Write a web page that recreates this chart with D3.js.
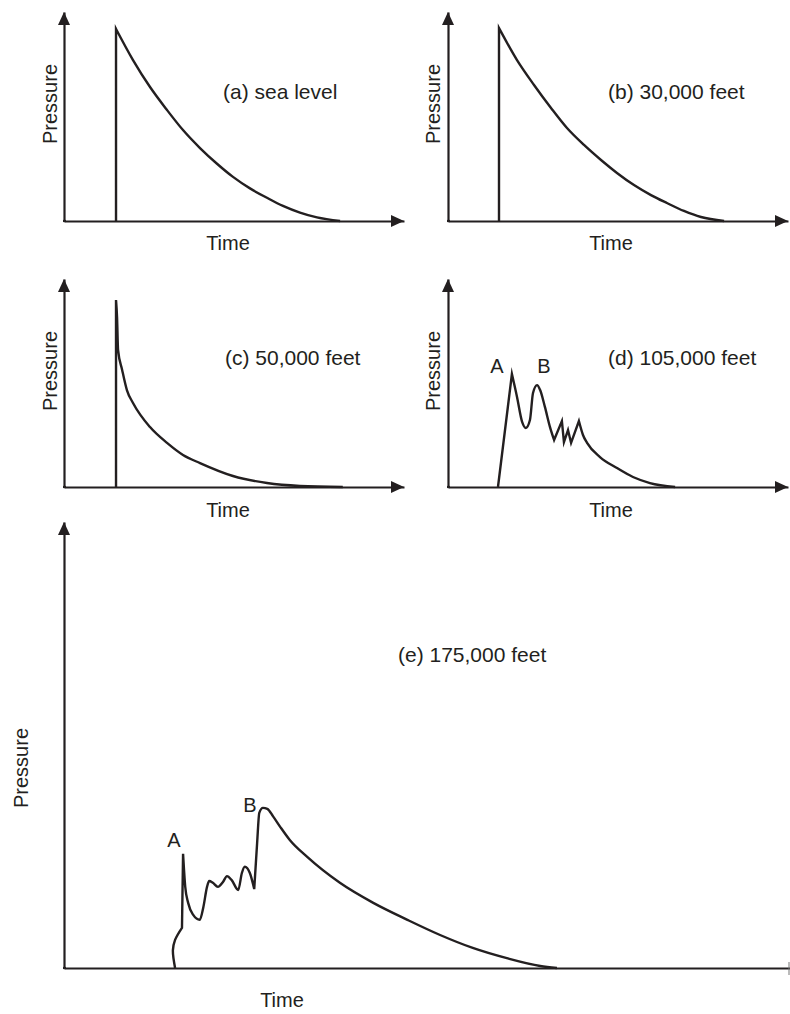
<!DOCTYPE html>
<html>
<head>
<meta charset="utf-8">
<script src="https://cdn.jsdelivr.net/npm/d3@7"></script>
<style>
  html, body { margin: 0; padding: 0; background: #fff; }
  svg { display: block; }
  text { font-family: "Liberation Sans", Arial, Helvetica, sans-serif; fill: #231f20; }
</style>
</head>
<body>
<svg id="chart" width="790" height="1014"></svg>
<script>
// ---- Data (time, pressure) in relative units 0-100 ----
const seaLevel = [[15.3,0],[15.3,91.9],[20.3,77.0],[25.3,64.1],[30.3,53.1],[35.0,43.5],[40.0,34.9],[45.0,27.4],[49.7,21.1],[54.7,15.6],[59.7,11.1],[64.4,7.2],[69.4,4.0],[74.4,1.7],[81.2,0]];
const ft30000 = [[15.0,0],[15.0,92.3],[20.3,77.0],[25.3,65.1],[30.3,54.1],[35.0,44.5],[40.0,36.4],[45.0,29.2],[49.7,23.0],[54.7,17.2],[59.7,12.4],[64.4,8.6],[69.4,4.8],[74.4,1.9],[81.2,0]];
const ft50000 = [[15.3,0],[15.3,89.9],[15.6,81.7],[15.9,65.9],[17.1,56.3],[18.5,46.6],[20.3,40.4],[25.3,28.8],[30.3,21.2],[35.0,15.4],[40.0,11.5],[49.7,5.3],[59.7,1.9],[69.4,0.5],[82.0,0]];
const ft105000 = [[14.7,0],[18.8,54.3],[20.3,43.3],[21.8,31.3],[22.9,28.4],[24.1,32.2],[25.0,45.2],[26.2,49.0],[27.1,46.6],[28.5,38.5],[30.0,28.8],[31.2,22.6],[33.5,31.7],[34.1,21.6],[35.3,27.4],[36.2,21.2],[38.5,31.7],[39.7,25.0],[40.9,21.2],[44.7,14.4],[49.7,9.1],[54.4,4.8],[59.4,1.9],[66.8,0]];
const ft175000 = [[15.3,0],[15.0,4.0],[15.3,6.3],[16.25,9.0],[16.4,25.6],[16.7,18.2],[17.1,14.6],[17.8,11.9],[18.7,10.8],[19.2,13.7],[19.7,18.2],[20.0,19.5],[20.5,19.1],[21.2,18.2],[21.9,19.3],[22.45,20.6],[23.1,19.7],[24.0,17.5],[24.5,21.3],[24.9,22.7],[25.6,21.3],[26.2,17.7],[26.6,28.0],[26.9,34.8],[27.4,35.9],[28.0,35.7],[28.8,34.0],[29.8,31.6],[31.1,28.7],[33.5,24.9],[38.0,19.1],[42.6,14.6],[47.3,10.8],[51.8,7.4],[56.3,4.5],[61.0,2.2],[65.6,0.45],[67.9,0]];

// indices where the trace has a sharp corner
const sharpA = [1];
const sharpB = [1];
const sharpC = [1];
const sharpD = [1, 11, 12, 13, 14, 15, 16];
const sharpE = [3, 4, 21];

const panelLabels = ["(a) sea level", "(b) 30,000 feet", "(c) 50,000 feet", "(d) 105,000 feet", "(e) 175,000 feet"];
const yTitle = "Pressure";
const xTitle = "Time";

// ---- Layout ----
const ink = "#231f20";
const svg = d3.select("#chart");

const panels = [
  { data: seaLevel, sharp: sharpA, ox: 64,  oy: 221, xEnd: 404, yTop: 12,  label: panelLabels[0], lx: 223, ly: 99,
    py: [57, 104], tx: [228, 250], arrowX: true, peaks: [] },
  { data: ft30000,  sharp: sharpB, ox: 448, oy: 221, xEnd: 788, yTop: 12,  label: panelLabels[1], lx: 608, ly: 99,
    py: [440, 104], tx: [611, 250], arrowX: true, peaks: [] },
  { data: ft50000,  sharp: sharpC, ox: 64,  oy: 487, xEnd: 404, yTop: 279, label: panelLabels[2], lx: 225, ly: 365,
    py: [57, 371], tx: [228, 517], arrowX: true, peaks: [] },
  { data: ft105000, sharp: sharpD, ox: 448, oy: 487, xEnd: 788, yTop: 279, label: panelLabels[3], lx: 608, ly: 365,
    py: [440, 371], tx: [611, 517], arrowX: true, peaks: [["A", 497, 373], ["B", 544, 373]] },
  { data: ft175000, sharp: sharpE, ox: 64,  oy: 968, xEnd: 790, yTop: 522, label: panelLabels[4], lx: 398, ly: 662,
    py: [28, 768], tx: [282, 1007], arrowX: false, peaks: [["A", 174, 847], ["B", 250, 812]] }
];

panels.forEach(p => {
  const g = svg.append("g");
  const x = d3.scaleLinear().domain([0, 100]).range([p.ox, p.xEnd]);
  const y = d3.scaleLinear().domain([0, 100]).range([p.oy, p.yTop]);

  // axes (domain lines only)
  const xa = g.append("g").attr("transform", `translate(0,${p.oy})`)
    .call(d3.axisBottom(x).tickValues([]).tickSizeOuter(0));
  const ya = g.append("g").attr("transform", `translate(${p.ox},0)`)
    .call(d3.axisLeft(y).tickValues([]).tickSizeOuter(0));
  [xa, ya].forEach(a => a.select(".domain").attr("stroke", ink).attr("stroke-width", 2.2));
  g.append("line").attr("x1", p.ox - 1).attr("x2", p.ox + 2).attr("y1", p.oy).attr("y2", p.oy)
    .attr("stroke", ink).attr("stroke-width", 2.2);

  // arrowheads
  const yt = y.range()[1];
  g.append("path").attr("d", `M${p.ox},${yt} L${p.ox - 6},${yt + 13} L${p.ox + 6},${yt + 13} Z`).attr("fill", ink);
  const xt = x.range()[1];
  if (p.arrowX) {
    g.append("path").attr("d", `M${xt},${p.oy} L${xt - 13},${p.oy - 6} L${xt - 13},${p.oy + 6} Z`).attr("fill", ink);
  } else {
    g.append("line").attr("x1", xt - 1).attr("x2", xt - 1).attr("y1", p.oy - 6).attr("y2", p.oy + 7)
      .attr("stroke", "#777").attr("stroke-width", 1);
  }

  // trace, split at sharp corners; smooth monotone pieces where time increases
  const mono = d3.line().x(d => x(d[0])).y(d => y(d[1])).curve(d3.curveMonotoneX);
  const cr = d3.line().x(d => x(d[0])).y(d => y(d[1])).curve(d3.curveCatmullRom.alpha(0.5));
  const br = [0, ...p.sharp, p.data.length - 1];
  let dStr = "";
  for (let i = 0; i < br.length - 1; i++) {
    const seg = p.data.slice(br[i], br[i + 1] + 1);
    const inc = seg.every((d, j) => j === 0 || d[0] > seg[j - 1][0]);
    const s = (inc ? mono : cr)(seg);
    dStr += i === 0 ? s : s.replace(/^M[^A-Za-z]*/, "");
  }
  g.append("path").attr("d", dStr).attr("fill", "none").attr("stroke", ink)
    .attr("stroke-width", 2.4).attr("stroke-linejoin", "miter").attr("stroke-miterlimit", 6);

  // texts
  g.append("text").attr("x", p.lx).attr("y", p.ly).attr("font-size", 21).text(p.label);
  g.append("text").attr("transform", `translate(${p.py[0]},${p.py[1]}) rotate(-90)`)
    .attr("text-anchor", "middle").attr("font-size", 20).text(yTitle);
  g.append("text").attr("x", p.tx[0]).attr("y", p.tx[1]).attr("text-anchor", "middle")
    .attr("font-size", 20).text(xTitle);
  p.peaks.forEach(([t, px, py]) => {
    g.append("text").attr("x", px).attr("y", py).attr("text-anchor", "middle").attr("font-size", 20).text(t);
  });
});
</script>
</body>
</html>
